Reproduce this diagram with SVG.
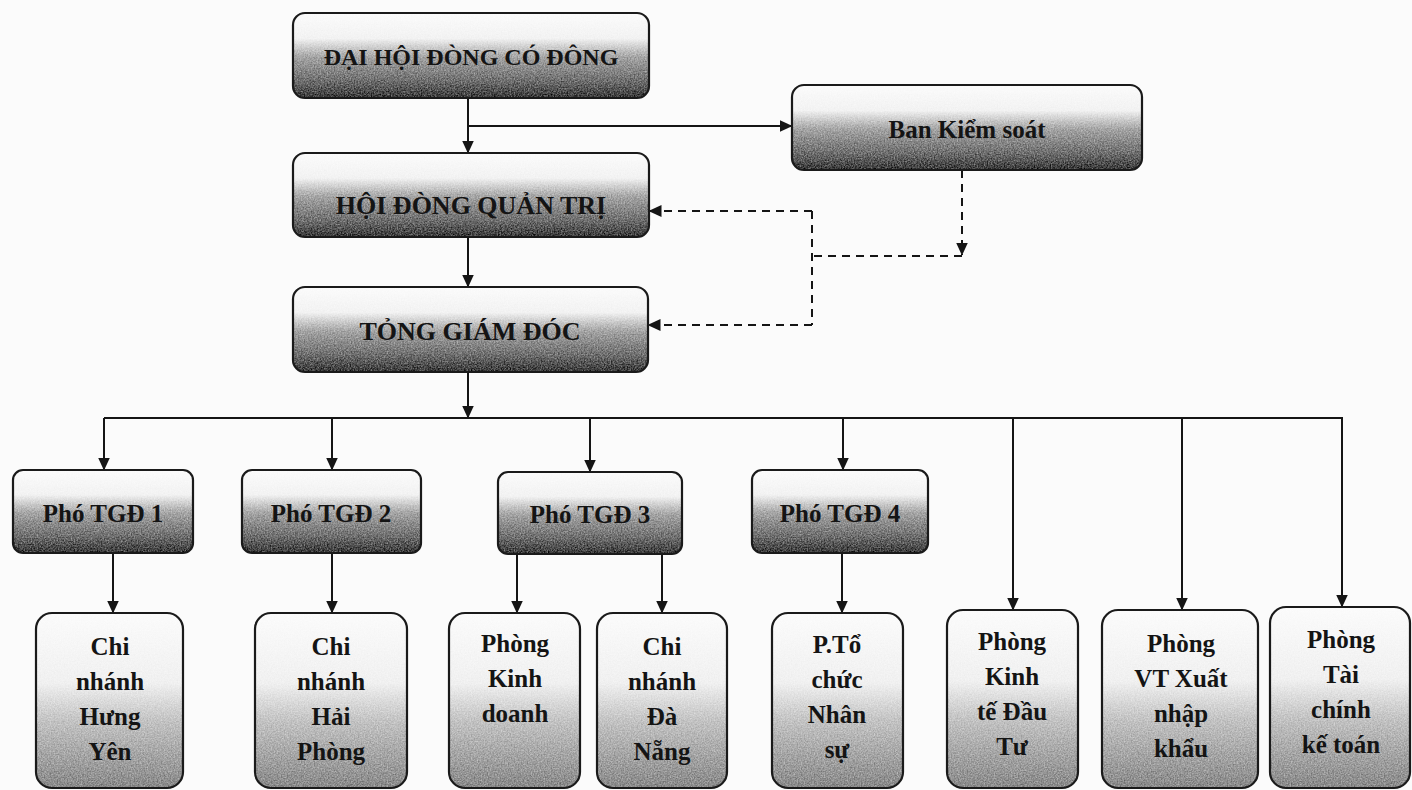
<svg xmlns="http://www.w3.org/2000/svg" width="1412" height="790" viewBox="0 0 1412 790">
<style>
text{font-family:"Liberation Serif","Times New Roman",serif;font-weight:bold;fill:#141414;text-anchor:middle}
.box{stroke:#1a1a1a;stroke-width:2.2}
.top{fill:url(#gTop)}
.low{fill:url(#gLow)}
.ln{fill:none;stroke:#151515;stroke-width:2}
.ds{fill:none;stroke:#151515;stroke-width:2;stroke-dasharray:8 6}
.arr{marker-end:url(#ah)}
.t24{font-size:24px}.t26{font-size:26px}.t25{font-size:25px}
</style>
<defs>
<linearGradient id="gTop" x1="0" y1="0" x2="0" y2="1">
<stop offset="0" stop-color="#fbfbfb"/>
<stop offset="0.3" stop-color="#f2f2f2"/>
<stop offset="0.52" stop-color="#a4a4a4"/>
<stop offset="0.8" stop-color="#6e6e6e"/>
<stop offset="1" stop-color="#383838"/>
</linearGradient>
<linearGradient id="gLow" x1="0" y1="0" x2="0" y2="1">
<stop offset="0" stop-color="#fbfbfb"/>
<stop offset="0.4" stop-color="#f0f0f0"/>
<stop offset="0.62" stop-color="#c2c2c2"/>
<stop offset="1" stop-color="#888888"/>
</linearGradient>
<filter id="grain" x="0" y="0" width="100%" height="100%" color-interpolation-filters="sRGB">
<feTurbulence type="fractalNoise" baseFrequency="0.7" numOctaves="2" seed="4" result="t"/>
<feColorMatrix in="t" type="matrix" values="1 0 0 0 0  1 0 0 0 0  1 0 0 0 0  0 0 0 0 1" result="g"/>
<feComposite in="SourceGraphic" in2="g" operator="arithmetic" k1="-1" k2="1.5" k3="1" k4="-0.5" result="c"/>
<feComposite in="c" in2="SourceAlpha" operator="in"/>
</filter>
<marker id="ah" viewBox="0 0 13 12" refX="12.5" refY="6" markerWidth="13" markerHeight="12" markerUnits="userSpaceOnUse" orient="auto">
<path d="M0,0 L13,6 L0,12 z" fill="#151515"/>
</marker>
</defs>
<rect width="1412" height="790" fill="#fbfbfb"/>

<g id="connectors">
<path class="ln arr" d="M468,98 V153"/>
<path class="ln arr" d="M468,126 H792"/>
<path class="ln arr" d="M468,237 V287"/>
<path class="ln arr" d="M468,372 V418"/>
<path class="ln" d="M104,418 H1343"/>
<path class="ln arr" d="M104,418 V470"/>
<path class="ln arr" d="M332,418 V470"/>
<path class="ln arr" d="M590,418 V472"/>
<path class="ln arr" d="M843,418 V470"/>
<path class="ln arr" d="M1013,418 V610"/>
<path class="ln arr" d="M1182,418 V610"/>
<path class="ln arr" d="M1342,418 V607"/>
<path class="ln arr" d="M113,553 V613"/>
<path class="ln arr" d="M332,553 V613"/>
<path class="ln arr" d="M517,554 V613"/>
<path class="ln arr" d="M662,554 V613"/>
<path class="ln arr" d="M842,553 V613"/>
<path class="ds arr" d="M962,170 V255"/>
<path class="ds" d="M962,256 H812"/>
<path class="ds" d="M812,211 V325"/>
<path class="ds arr" d="M812,211 H649"/>
<path class="ds arr" d="M812,325 H648"/>
</g>

<g id="dai-hoi-dong-co-dong">
<rect class="top" x="293" y="13" width="356" height="85" rx="12" filter="url(#grain)"/>
<rect class="box" fill="none" x="293" y="13" width="356" height="85" rx="12"/>
<text class="t24" x="471" y="65">ĐẠI HỘI ĐÒNG CÓ ĐÔNG</text>
</g>
<g id="ban-kiem-soat">
<rect class="top" x="792" y="85" width="350" height="85" rx="12" filter="url(#grain)"/>
<rect class="box" fill="none" x="792" y="85" width="350" height="85" rx="12"/>
<text class="t25" x="967" y="138">Ban Kiểm soát</text>
</g>
<g id="hoi-dong-quan-tri">
<rect class="top" x="293" y="153" width="356" height="84" rx="12" filter="url(#grain)"/>
<rect class="box" fill="none" x="293" y="153" width="356" height="84" rx="12"/>
<text class="t26" x="471" y="214">HỘI ĐÒNG QUẢN TRỊ</text>
</g>
<g id="tong-giam-doc">
<rect class="top" x="293" y="287" width="355" height="85" rx="12" filter="url(#grain)"/>
<rect class="box" fill="none" x="293" y="287" width="355" height="85" rx="12"/>
<text class="t26" x="470" y="340">TỎNG GIÁM ĐÓC</text>
</g>

<g id="pho-tgd-1">
<rect class="top" x="13" y="470" width="180" height="83" rx="10" filter="url(#grain)"/>
<rect class="box" fill="none" x="13" y="470" width="180" height="83" rx="10"/>
<text class="t25" x="103" y="522">Phó TGĐ 1</text>
</g>
<g id="pho-tgd-2">
<rect class="top" x="242" y="470" width="179" height="83" rx="10" filter="url(#grain)"/>
<rect class="box" fill="none" x="242" y="470" width="179" height="83" rx="10"/>
<text class="t25" x="331" y="522">Phó TGĐ 2</text>
</g>
<g id="pho-tgd-3">
<rect class="top" x="498" y="472" width="184" height="82" rx="10" filter="url(#grain)"/>
<rect class="box" fill="none" x="498" y="472" width="184" height="82" rx="10"/>
<text class="t25" x="590" y="523">Phó TGĐ 3</text>
</g>
<g id="pho-tgd-4">
<rect class="top" x="752" y="470" width="176" height="83" rx="10" filter="url(#grain)"/>
<rect class="box" fill="none" x="752" y="470" width="176" height="83" rx="10"/>
<text class="t25" x="840" y="522">Phó TGĐ 4</text>
</g>

<g id="chi-nhanh-hung-yen">
<rect class="low" x="36" y="613" width="147" height="175" rx="16" filter="url(#grain)"/>
<rect class="box" fill="none" x="36" y="613" width="147" height="175" rx="16"/>
<text class="t25" x="110" y="655">Chi</text>
<text class="t25" x="110" y="690">nhánh</text>
<text class="t25" x="110" y="725">Hưng</text>
<text class="t25" x="110" y="760">Yên</text>
</g>
<g id="chi-nhanh-hai-phong">
<rect class="low" x="255" y="613" width="152" height="175" rx="16" filter="url(#grain)"/>
<rect class="box" fill="none" x="255" y="613" width="152" height="175" rx="16"/>
<text class="t25" x="331" y="655">Chi</text>
<text class="t25" x="331" y="690">nhánh</text>
<text class="t25" x="331" y="725">Hải</text>
<text class="t25" x="331" y="760">Phòng</text>
</g>
<g id="phong-kinh-doanh">
<rect class="low" x="449" y="613" width="131" height="175" rx="16" filter="url(#grain)"/>
<rect class="box" fill="none" x="449" y="613" width="131" height="175" rx="16"/>
<text class="t25" x="515" y="652">Phòng</text>
<text class="t25" x="515" y="687">Kinh</text>
<text class="t25" x="515" y="722">doanh</text>
</g>
<g id="chi-nhanh-da-nang">
<rect class="low" x="597" y="613" width="130" height="175" rx="16" filter="url(#grain)"/>
<rect class="box" fill="none" x="597" y="613" width="130" height="175" rx="16"/>
<text class="t25" x="662" y="655">Chi</text>
<text class="t25" x="662" y="690">nhánh</text>
<text class="t25" x="662" y="725">Đà</text>
<text class="t25" x="662" y="760">Nẵng</text>
</g>
<g id="phong-to-chuc-nhan-su">
<rect class="low" x="772" y="613" width="131" height="175" rx="16" filter="url(#grain)"/>
<rect class="box" fill="none" x="772" y="613" width="131" height="175" rx="16"/>
<text class="t25" x="837" y="653">P.Tổ</text>
<text class="t25" x="837" y="688">chức</text>
<text class="t25" x="837" y="723">Nhân</text>
<text class="t25" x="837" y="758">sự</text>
</g>
<g id="phong-kinh-te-dau-tu">
<rect class="low" x="947" y="610" width="131" height="178" rx="16" filter="url(#grain)"/>
<rect class="box" fill="none" x="947" y="610" width="131" height="178" rx="16"/>
<text class="t25" x="1012" y="650">Phòng</text>
<text class="t25" x="1012" y="685">Kinh</text>
<text class="t25" x="1012" y="720">tế Đầu</text>
<text class="t25" x="1012" y="755">Tư</text>
</g>
<g id="phong-vt-xuat-nhap-khau">
<rect class="low" x="1102" y="610" width="156" height="178" rx="16" filter="url(#grain)"/>
<rect class="box" fill="none" x="1102" y="610" width="156" height="178" rx="16"/>
<text class="t25" x="1181" y="652">Phòng</text>
<text class="t25" x="1181" y="687">VT Xuất</text>
<text class="t25" x="1181" y="722">nhập</text>
<text class="t25" x="1181" y="757">khẩu</text>
</g>
<g id="phong-tai-chinh-ke-toan">
<rect class="low" x="1270" y="607" width="140" height="181" rx="16" filter="url(#grain)"/>
<rect class="box" fill="none" x="1270" y="607" width="140" height="181" rx="16"/>
<text class="t25" x="1341" y="648">Phòng</text>
<text class="t25" x="1341" y="683">Tài</text>
<text class="t25" x="1341" y="718">chính</text>
<text class="t25" x="1341" y="753">kế toán</text>
</g>
</svg>
